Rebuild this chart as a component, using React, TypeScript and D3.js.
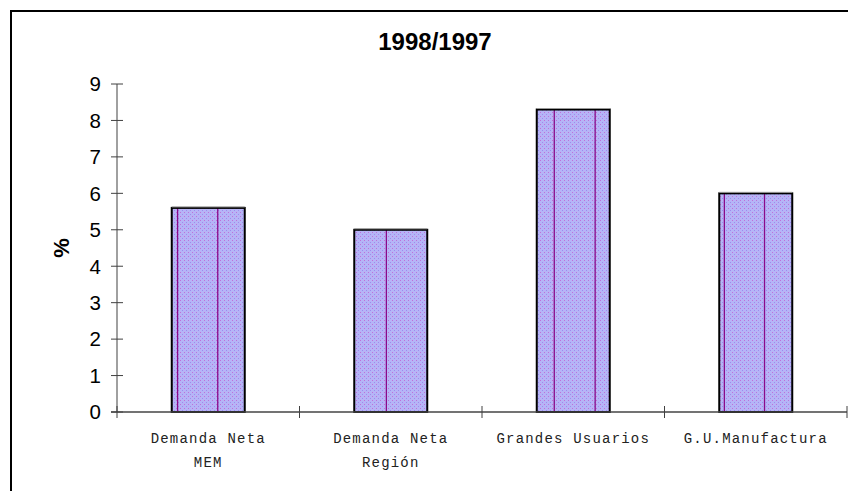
import React from "react";
import * as d3 from "d3";

const categories: string[][] = [
  ["Demanda Neta", "MEM"],
  ["Demanda Neta", "Región"],
  ["Grandes Usuarios"],
  ["G.U.Manufactura"],
];
const values: number[] = [5.6, 5.0, 8.3, 6.0];
const yTicks: number[] = [0, 1, 2, 3, 4, 5, 6, 7, 8, 9];
const title = "1998/1997";
const yLabel = "%";
// purple stripe artifacts inside each bar (fraction of bar width)
const stripes: number[][] = [[0.08, 0.63], [0.44], [0.24, 0.8], [0.07, 0.62]];

const W = 848;
const H = 491;

export default function App() {
  const keys = categories.map((c) => c.join(" "));
  const x = d3.scaleBand<string>().domain(keys).range([117, 847]).paddingInner(0.6).paddingOuter(0.3);
  const y = d3.scaleLinear().domain([0, 9]).range([412, 84]);
  const step = x.step();
  const boundaries = d3.range(keys.length + 1).map((i) => 117 + i * step);

  return (
    <svg width={W} height={H} style={{ position: "absolute", left: 0, top: 0 }}>
      <defs>
        <pattern id="dots" width="4" height="4" patternUnits="userSpaceOnUse">
          <rect width="4" height="4" fill="#b6b4f6" />
          <rect x="0" y="0" width="1" height="1" fill="#c070d8" />
          <rect x="2" y="2" width="1" height="1" fill="#9c8cf0" />
        </pattern>
      </defs>
      <rect x={0} y={0} width={W} height={H} fill="#fff" />
      <rect x={11} y={11} width={845} height={490} fill="none" stroke="#000" strokeWidth={2} />
      <text x={435} y={50} textAnchor="middle" fontFamily="Liberation Sans, Arial, sans-serif" fontWeight="bold" fontSize={24}>
        {title}
      </text>
      <text
        transform="translate(69,248) rotate(-90)"
        textAnchor="middle"
        fontFamily="Liberation Sans, Arial, sans-serif"
        fontWeight="bold"
        fontSize={22}
      >
        {yLabel}
      </text>
      {/* bars */}
      {values.map((v, i) => {
        const bx = x(keys[i])!;
        const bw = x.bandwidth();
        return (
          <g key={i}>
            <rect x={bx} y={y(v)} width={bw} height={y(0) - y(v)} fill="url(#dots)" />
            {stripes[i].map((f, j) => (
              <line key={j} x1={bx + f * bw} x2={bx + f * bw} y1={y(v)} y2={y(0)} stroke="#8a0a8a" strokeWidth={1.3} />
            ))}
            <rect x={bx} y={y(v)} width={bw} height={y(0) - y(v)} fill="none" stroke="#000" strokeWidth={2} />
            <line x1={bx} x2={bx + bw} y1={y(v) - 1} y2={y(v) - 1} stroke="#999" strokeWidth={1} />
          </g>
        );
      })}
      {/* y axis */}
      <line x1={117} x2={117} y1={y(9)} y2={y(0)} stroke="#808080" strokeWidth={1.5} />
      {yTicks.map((t) => (
        <g key={t}>
          <line x1={111} x2={123} y1={y(t)} y2={y(t)} stroke="#404040" strokeWidth={1} />
          <text x={101} y={y(t)} dy="0.36em" textAnchor="end" fontFamily="Liberation Sans, Arial, sans-serif" fontSize={20.5}>
            {t}
          </text>
        </g>
      ))}
      {/* x axis */}
      <line x1={111} x2={847} y1={y(0)} y2={y(0)} stroke="#444" strokeWidth={1.5} />
      {boundaries.map((bx, i) => (
        <line key={i} x1={bx} x2={bx} y1={y(0) - 6} y2={y(0) + 6} stroke="#404040" strokeWidth={1} />
      ))}
      {categories.map((lines, i) => (
        <text
          key={i}
          x={x(keys[i])! + x.bandwidth() / 2}
          textAnchor="middle"
          fontFamily="Liberation Mono, Courier New, monospace"
          fontSize={14}
          letterSpacing={1.2}
          fill="#222"
        >
          {lines.map((l, j) => (
            <tspan key={j} x={x(keys[i])! + x.bandwidth() / 2} y={443 + j * 24}>
              {l}
            </tspan>
          ))}
        </text>
      ))}
    </svg>
  );
}
